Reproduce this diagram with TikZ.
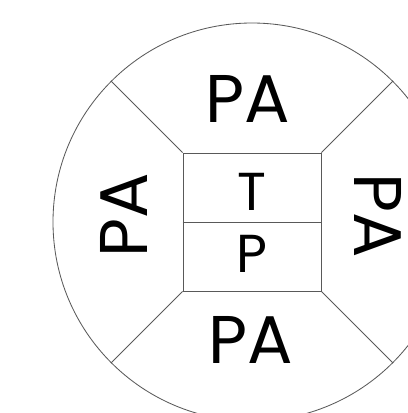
\documentclass[tikz,border=0pt]{standalone}
\usepackage{fontspec}
\setmainfont{Poppins}
\usepackage{tikz}

\begin{document}
\begin{tikzpicture}[line width=0.6pt]
  \tikzstyle{edge}=[draw=black!65]
  \tikzstyle{big}=[font=\fontsize{48}{48}\selectfont,inner sep=0pt]
  \tikzstyle{small}=[font=\fontsize{38}{38}\selectfont,inner sep=0pt]
  \useasboundingbox (-6.3,-4.775) rectangle (3.9,5.55);
  \clip (-6.3,-4.775) rectangle (3.9,5.55);
  \node[circle,edge,minimum size=9.95cm,inner sep=0pt] (ring) at (0,0) {};
  \node[edge,minimum size=3.45cm,inner sep=0pt] (box) at (0,0) {};
  \draw[edge] (box.west) -- (box.east);
  \draw[edge] (box.north west) -- (ring.135);
  \draw[edge] (box.north east) -- (ring.45);
  \draw[edge] (box.south west) -- (ring.225);
  \draw[edge] (box.south east) -- (ring.315);
  \node[small] (T) at (0,0.75) {T};
  \node[small] (P) at (0,-0.8) {P};
  \node[big] (PAtop) at (-0.1,3.075) {PA};
  \node[big] (PAbot) at (-0.025,-2.95) {PA};
  \node[big,rotate=90] (PAleft) at (-3.2,0.175) {PA};
  \node[big,rotate=-90] (PAright) at (3.15,0.15) {PA};
\end{tikzpicture}
\end{document}
